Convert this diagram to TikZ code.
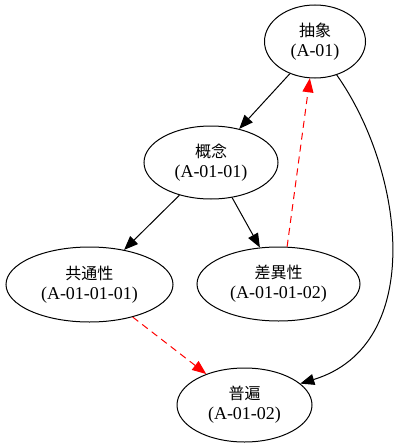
\documentclass[tikz,border=0pt]{standalone}
\usepackage{fontspec}
\setmainfont{Liberation Serif}
\newfontfamily\cjk{Noto Sans CJK JP}
\usetikzlibrary{shapes.geometric,arrows.meta}
\begin{document}
\begin{tikzpicture}[x=1pt,y=-1pt,
  concept/.style={draw,ellipse,line width=1pt,inner sep=0pt,align=center,font=\fontsize{18}{20}\selectfont},
  link/.style={line width=1pt,-{Triangle[length=14pt,width=11pt]}},
  backlink/.style={link,red,dash pattern=on 7pt off 5pt}]
\useasboundingbox (0,0) rectangle (400,447);
\node[concept,minimum width=101pt,minimum height=73pt] (n1) at (315,41.5) {{\cjk\fontsize{16}{20}\selectfont 抽象}\\(A-01)};
\node[concept,minimum width=134pt,minimum height=73pt] (n2) at (211,162.5) {{\cjk\fontsize{16}{20}\selectfont 概念}\\(A-01-01)};
\node[concept,minimum width=167pt,minimum height=75pt] (n3) at (89.5,284.5) {{\cjk\fontsize{16}{20}\selectfont 共通性}\\(A-01-01-01)};
\node[concept,minimum width=163pt,minimum height=74pt] (n4) at (278.5,284) {{\cjk\fontsize{16}{20}\selectfont 差異性}\\(A-01-01-02)};
\node[concept,minimum width=135pt,minimum height=74pt] (n5) at (244.5,405) {{\cjk\fontsize{16}{20}\selectfont 普遍}\\(A-01-02)};
\draw[link] (n1.232) -- (n2.50);
\draw[link] (n2.226) -- (n3.45);
\draw[link] (n2.301) -- (n4.117);
\draw[link] (n1.-57) .. controls (404,170) and (427,345) .. (n5.21);
\draw[backlink] (n4.77) -- (n1.262);
\draw[backlink] (n3.-37) -- (n5.141);
\end{tikzpicture}
\end{document}
